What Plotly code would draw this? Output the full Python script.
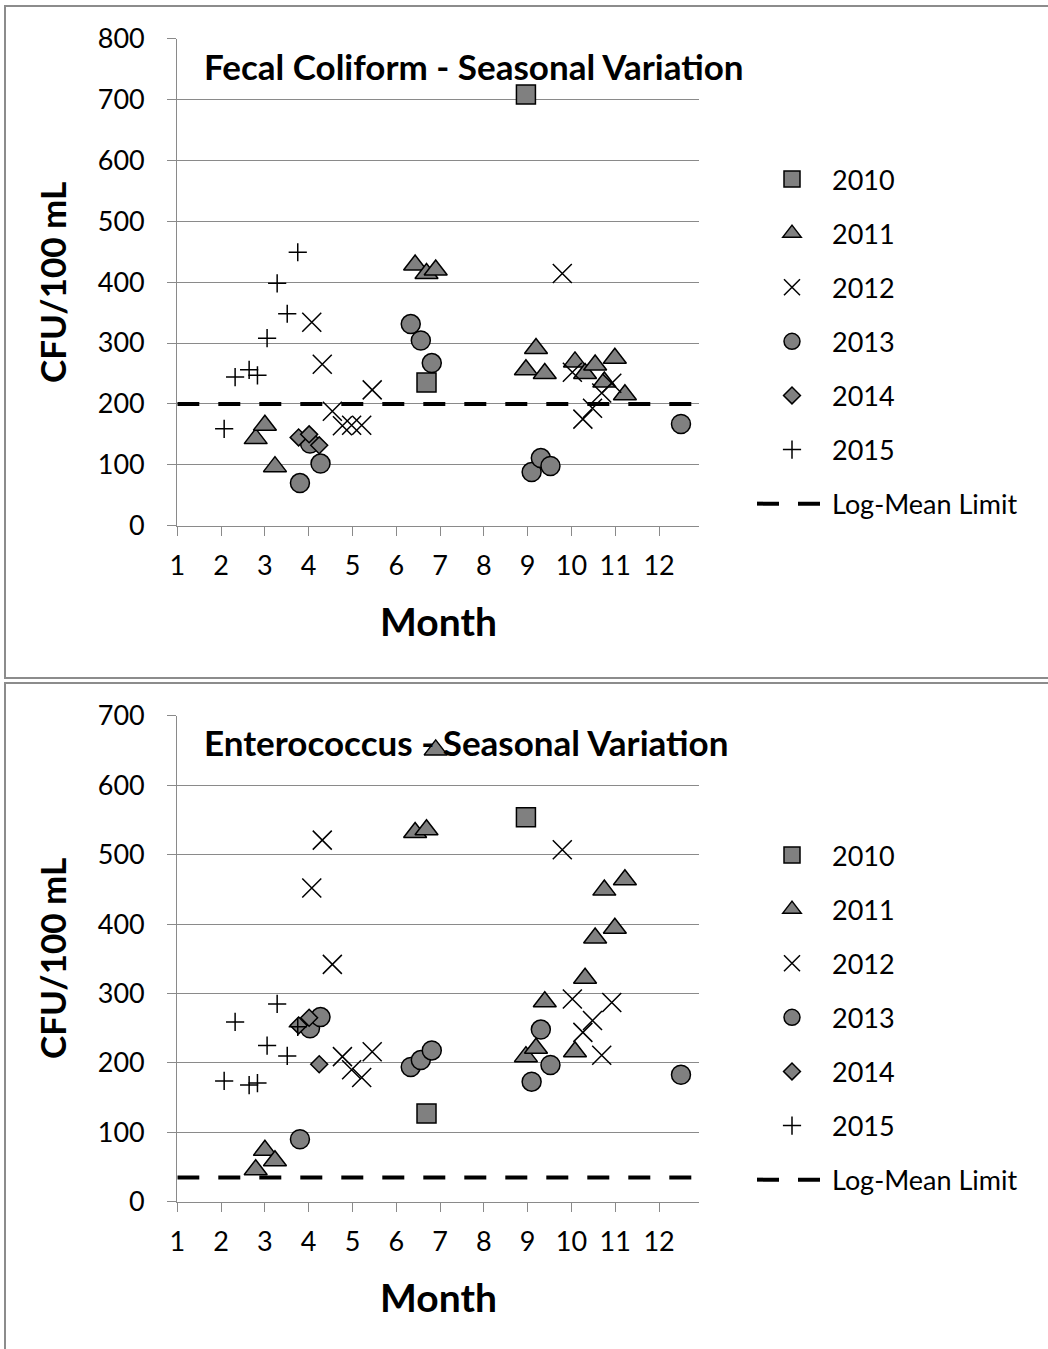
import plotly.graph_objects as go

# ---------------- data ----------------
years = ["2010", "2011", "2012", "2013", "2014", "2015"]

month_2010 = [6.69, 8.96]
month_2011 = [2.79, 3.0, 3.23, 6.43, 6.69, 6.9, 8.96, 9.19, 9.39, 10.08, 10.31, 10.54, 10.75, 10.99, 11.22]
month_2012 = [4.07, 4.31, 4.54, 4.77, 4.98, 5.21, 5.45, 9.79, 10.02, 10.26, 10.48, 10.69, 10.92]
month_2013 = [3.8, 4.03, 4.27, 6.33, 6.56, 6.81, 9.09, 9.3, 9.52, 12.5]
month_2014 = [3.77, 4.01, 4.24]
month_2015 = [2.07, 2.32, 2.64, 2.83, 3.05, 3.28, 3.51, 3.75]

fecal_2010 = [235, 708]
fecal_2011 = [143, 165, 97, 428, 414, 420, 256, 291, 250, 269, 250, 264, 236, 275, 215]
fecal_2012 = [334, 265, 188, 164, 165, 165, 223, 414, 252, 175, 193, 218, 234]
fecal_2013 = [70, 135, 102, 331, 304, 267, 88, 111, 98, 167]
fecal_2014 = [145, 150, 132]
fecal_2015 = [159, 244, 256, 247, 308, 398, 348, 449]

entero_2010 = [127, 554]
entero_2011 = [46, 74, 59, 532, 536, 651, 209, 221, 288, 216, 322, 380, 449, 394, 464]
entero_2012 = [452, 521, 342, 209, 190, 179, 216, 507, 292, 244, 261, 211, 287]
entero_2013 = [90, 250, 266, 194, 204, 218, 173, 248, 197, 183]
entero_2014 = [254, 265, 198]
entero_2015 = [174, 259, 168, 171, 225, 285, 210, 252]

fecal_limit = 200
entero_limit = 35

month_ticks = [1, 2, 3, 4, 5, 6, 7, 8, 9, 10, 11, 12]
fecal_ticks = [0, 100, 200, 300, 400, 500, 600, 700, 800]
entero_ticks = [0, 100, 200, 300, 400, 500, 600, 700]

# ---------------- styling ----------------
W, H = 1048, 1349
GRAY = "#808080"
GRID = "#8a8a8a"
FONT = "Lato"
X_RANGE = [1, 12.9]

def px(x):
    return x / W

def py(y):
    return 1 - y / H

marker_styles = {
    "2010": dict(symbol="square", size=19, color=GRAY, line=dict(color="black", width=1.5)),
    "2011": dict(symbol="triangle-up", size=20, color=GRAY, line=dict(color="black", width=1.5)),
    "2012": dict(symbol="x-thin-open", size=19, color="black", line=dict(color="black", width=1.5)),
    "2013": dict(symbol="circle", size=19, color=GRAY, line=dict(color="black", width=1.5)),
    "2014": dict(symbol="diamond", size=13, color=GRAY, line=dict(color="black", width=1.5)),
    "2015": dict(symbol="cross-thin-open", size=13, color="black", line=dict(color="black", width=1.5)),
}

months = [month_2010, month_2011, month_2012, month_2013, month_2014, month_2015]
fecal = [fecal_2010, fecal_2011, fecal_2012, fecal_2013, fecal_2014, fecal_2015]
entero = [entero_2010, entero_2011, entero_2012, entero_2013, entero_2014, entero_2015]

fig = go.Figure()

panels = [
    dict(vals=fecal, limit=fecal_limit, xa="x", ya="y", legend="legend", tag="fc"),
    dict(vals=entero, limit=entero_limit, xa="x2", ya="y2", legend="legend2", tag="en"),
]

for p in panels:
    # limit line first so markers draw on top
    fig.add_trace(go.Scatter(
        x=X_RANGE, y=[p["limit"], p["limit"]], mode="lines",
        line=dict(color="black", width=4, dash="22px,19px"),
        name="Log-Mean Limit", xaxis=p["xa"], yaxis=p["ya"],
        legend=p["legend"], legendgroup=p["tag"] + "lim", legendrank=100,
        hoverinfo="skip",
    ))
    for i, yr in enumerate(years):
        fig.add_trace(go.Scatter(
            x=months[i], y=p["vals"][i], mode="markers", name=yr,
            marker=marker_styles[yr], xaxis=p["xa"], yaxis=p["ya"],
            legend=p["legend"], legendgroup=p["tag"] + yr, legendrank=10 + i,
        ))

xdom = [px(177.3), px(698.5)]
axis_common = dict(
    showline=True, linecolor=GRID, linewidth=1.3,
    ticks="outside", ticklen=9, tickcolor=GRID, tickwidth=1.3,
    tickfont=dict(family=FONT, size=27, color="black"),
    zeroline=False, mirror=False, automargin=False,
)

legend_common = dict(
    x=px(752), xanchor="left", yanchor="top",
    font=dict(family=FONT, size=27, color="black"),
    tracegroupgap=16, traceorder="grouped", bgcolor="rgba(0,0,0,0)",
    itemwidth=70,
)

fig.update_layout(
    template="none",
    width=W, height=H, autosize=False,
    margin=dict(l=0, r=0, t=0, b=0, pad=0, autoexpand=False),
    paper_bgcolor="white", plot_bgcolor="white",
    showlegend=True,
    xaxis=dict(domain=xdom, range=X_RANGE, tickvals=month_ticks, showgrid=False,
               anchor="y", ticklabelstandoff=7, **axis_common),
    yaxis=dict(domain=[py(525.7), py(38.5)], range=[0, 800], tickvals=fecal_ticks,
               showgrid=True, gridcolor=GRID, gridwidth=1.3, anchor="x",
               ticklabelstandoff=17, **axis_common),
    xaxis2=dict(domain=xdom, range=X_RANGE, tickvals=month_ticks, showgrid=False,
                anchor="y2", ticklabelstandoff=7, **axis_common),
    yaxis2=dict(domain=[py(1201.7), py(715.9)], range=[0, 700], tickvals=entero_ticks,
                showgrid=True, gridcolor=GRID, gridwidth=1.3, anchor="x2",
                ticklabelstandoff=17, **axis_common),
    legend=dict(y=py(155), **legend_common),
    legend2=dict(y=py(831), **legend_common),
    shapes=[
        dict(type="rect", xref="paper", yref="paper", x0=px(5), x1=px(1060),
             y0=py(678), y1=py(6), line=dict(color="#8c8c8c", width=2), layer="below"),
        dict(type="rect", xref="paper", yref="paper", x0=px(5), x1=px(1060),
             y0=py(1370), y1=py(683), line=dict(color="#8c8c8c", width=2), layer="below"),
    ],
)

annots = [
    ("<b>Fecal Coliform - Seasonal Variation</b>", 474, 66, 35, 0),
    ("<b>Enterococcus - Seasonal Variation</b>", 466, 742, 35, 0),
    ("<b>Month</b>", 438, 621, 39, 0),
    ("<b>Month</b>", 438, 1297, 39, 0),
    ("<b>CFU/100 mL</b>", 52, 283, 35, -90),
    ("<b>CFU/100 mL</b>", 52, 959, 35, -90),
]
for text, x, y, size, ang in annots:
    fig.add_annotation(text=text, x=px(x), y=py(y), xref="paper", yref="paper",
                       xanchor="center", yanchor="middle", showarrow=False,
                       textangle=ang, font=dict(family=FONT, size=size, color="black"))

fig.write_html("out.html", config={"displayModeBar": False},
               post_script="document.body.style.margin='0';")
